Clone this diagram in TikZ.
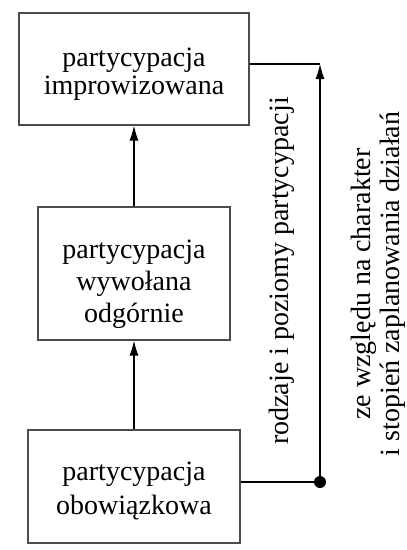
\documentclass[tikz,border=0pt]{standalone}
\usepackage{fontspec}
\setmainfont{Liberation Serif}
\usetikzlibrary{arrows.meta}
\begin{document}
\begin{tikzpicture}[x=1pt,y=-1pt,
  boxnode/.style={draw=black!70,line width=1.2pt,rectangle,inner sep=0pt},
  boxtext/.style={inner sep=0pt,align=center},
  arr/.style={line width=1.1pt,-{Latex[length=15pt,width=9pt]}},
  conn/.style={line width=1.1pt},
  rottext/.style={rotate=90,anchor=base,inner sep=0pt,font=\fontsize{28}{29}\selectfont}]
\useasboundingbox (0,0) rectangle (407,550);
\node[boxnode,minimum width=230pt,minimum height=112pt] (b1) at (134,69) {};
\node[boxtext,font=\fontsize{28}{28.5}\selectfont] (b1t) at ([yshift=-5pt]b1.center) {partycypacja\\improwizowana};
\node[boxnode,minimum width=192pt,minimum height=133pt] (b2) at (134,273.5) {};
\node[boxtext,font=\fontsize{28}{32}\selectfont] (b2t) at ([yshift=-11pt]b2.center) {partycypacja\\wywołana\\odgórnie};
\node[boxnode,minimum width=212pt,minimum height=113pt] (b3) at (134,486.5) {};
\node[boxtext,font=\fontsize{28}{34}\selectfont] (b3t) at ([yshift=-4pt]b3.center) {partycypacja\\obowiązkowa};
\draw[arr] (b3.north) -- (b2.south);
\draw[arr] (b2.north) -- (b1.south);
\coordinate (c) at (320,64);
\coordinate (d) at (320,482);
\draw[conn] (b1.east |- c) -- (c);
\draw[conn] (b3.east |- d) -- (d);
\draw[arr] (d) -- (c);
\fill (d) circle (6pt);
\node[rottext] (t1) at (288,271) {rodzaje i poziomy partycypacji};
\node[rottext] (t2) at (370,284) {ze względu na charakter};
\node[rottext] (t3) at (399,284) {i stopień zaplanowania działań};
\end{tikzpicture}
\end{document}
